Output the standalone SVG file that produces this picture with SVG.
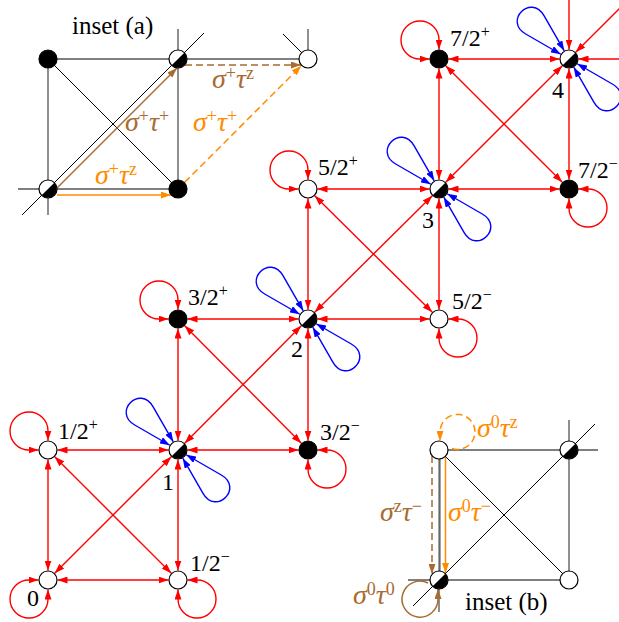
<svg xmlns="http://www.w3.org/2000/svg" width="619" height="622" viewBox="0 0 619 622">
<style>
.r{stroke:#f00;stroke-width:1.4;fill:none;marker-start:url(#ar);marker-end:url(#ar)}
.r1{stroke:#f00;stroke-width:1.4;fill:none;marker-end:url(#ar)}
.gl{stroke:#555;stroke-width:1.3;fill:none}
.bl{stroke:#000;stroke-width:1;fill:none}
.nw{fill:#fff;stroke:#000;stroke-width:1.2}
.nb{fill:#000;stroke:#000;stroke-width:1.2}
.lbl{font-family:"Liberation Serif","Times New Roman",serif;font-size:24px;fill:#000}
.sup{font-size:16px}
.gk{font-family:"Liberation Serif","Times New Roman",serif;font-size:28px;font-style:italic}
.sp{font-size:18px;font-style:normal}
.br{stroke:#A86B32;stroke-width:1.5;fill:none}
.or{stroke:#FF8C00;stroke-width:1.5;fill:none}
.dash{stroke-dasharray:7 4}
</style>
<defs>
<marker id="ar" viewBox="0 0 10 7" refX="10" refY="3.5" markerWidth="10" markerHeight="7" markerUnits="userSpaceOnUse" orient="auto-start-reverse"><path d="M0,0 L10,3.5 L0,7 z" fill="#f00"/></marker>
<marker id="ab" viewBox="0 0 10 7" refX="10" refY="3.5" markerWidth="10" markerHeight="7" markerUnits="userSpaceOnUse" orient="auto-start-reverse"><path d="M0,0 L10,3.5 L0,7 z" fill="#00f"/></marker>
<marker id="abr" viewBox="0 0 10 7" refX="10" refY="3.5" markerWidth="10" markerHeight="7" markerUnits="userSpaceOnUse" orient="auto"><path d="M0,0 L10,3.5 L0,7 z" fill="#A86B32"/></marker>
<marker id="aor" viewBox="0 0 10 7" refX="10" refY="3.5" markerWidth="10" markerHeight="7" markerUnits="userSpaceOnUse" orient="auto"><path d="M0,0 L10,3.5 L0,7 z" fill="#FF8C00"/></marker>
<path id="lUL" d="M-9.5,0 L-19,0 A19 19 0 1 1 0,-19 L0,-9.5" stroke="#f00" stroke-width="1.4" fill="none" marker-start="url(#ar)" marker-end="url(#ar)"/>
<path id="lLR" d="M9.5,0 L19,0 A19 19 0 1 1 0,19 L0,9.5" stroke="#f00" stroke-width="1.4" fill="none" marker-start="url(#ar)" marker-end="url(#ar)"/>
<path id="lLL" d="M0,9.5 L0,19 A19 19 0 1 1 -19,0 L-9.5,0" stroke="#f00" stroke-width="1.4" fill="none" marker-start="url(#ar)" marker-end="url(#ar)"/>
<path id="tUL" d="M-8.2,-4.75 L-43.3,-25 C-65.8,-38 -38,-65.8 -25,-43.3 L-4.75,-8.2" stroke="#00f" stroke-width="1.4" fill="none" marker-start="url(#ab)" marker-end="url(#ab)"/>
<path id="tLR" d="M8.2,4.75 L43.3,25 C65.8,38 38,65.8 25,43.3 L4.75,8.2" stroke="#00f" stroke-width="1.4" fill="none" marker-start="url(#ab)" marker-end="url(#ab)"/>
<g id="half"><circle r="9" fill="#fff" stroke="#000" stroke-width="1.2"/><path d="M-6.36,6.36 A9 9 0 0 0 6.36,-6.36 Z" fill="#000"/></g>
</defs>

<g id="inset-lines">
<path class="gl" d="M48,59 H308 M48,189 H178 M48,59 V189 M178,59 V189 M18,189 H48 M48,189 V215 M178,59 V29 M308,59 V29"/>
<path class="bl" d="M48,59 L178,189 M22,215 L204,33 M283,34 L308,59"/>
<path class="gl" d="M439,450 H598 M439,580 H569 M569,450 V580 M408,580 H439 M439,580 V612 M569,450 V420"/>
<path stroke="#666" stroke-width="2.2" fill="none" d="M439.5,450 V580"/>
<path class="bl" d="M439,450 L569,580 M413,606 L595,424"/>
</g>

<g id="connectors">
<path class="r" d="M48,570.5 V459.5"/>
<path class="r" d="M57.5,580 H168.5"/>
<path class="r" d="M57.5,450 H168.5"/>
<path class="r" d="M178,570.5 V459.5"/>
<path class="r" d="M54.7,573.3 L171.3,456.7"/>
<path class="r" d="M54.7,456.7 L171.3,573.3"/>
<path class="r" d="M178,440.5 V328.5"/>
<path class="r" d="M187.5,450 H298.5"/>
<path class="r" d="M187.5,319 H298.5"/>
<path class="r" d="M308,440.5 V328.5"/>
<path class="r" d="M184.7,443.3 L301.3,325.7"/>
<path class="r" d="M184.7,325.7 L301.3,443.3"/>
<path class="r" d="M308,309.5 V198.5"/>
<path class="r" d="M317.5,319 H429.5"/>
<path class="r" d="M317.5,189 H429.5"/>
<path class="r" d="M439,309.5 V198.5"/>
<path class="r" d="M314.7,312.3 L432.3,195.7"/>
<path class="r" d="M314.7,195.7 L432.3,312.3"/>
<path class="r" d="M439,179.5 V68.5"/>
<path class="r" d="M448.5,189 H559.5"/>
<path class="r" d="M448.5,59 H559.5"/>
<path class="r" d="M569,179.5 V68.5"/>
<path class="r" d="M445.7,182.3 L562.3,65.7"/>
<path class="r" d="M445.7,65.7 L562.3,182.3"/>
<path class="r1" d="M569,-20 V49.5"/>
<path class="r1" d="M640,59 H578.5"/>
<path class="r1" d="M640,-12 L575.7,52.3"/>
<use href="#lLL" transform="translate(48,580)"/>
<use href="#lUL" transform="translate(48,450)"/>
<use href="#lLR" transform="translate(178,580)"/>
<use href="#lUL" transform="translate(178,319)"/>
<use href="#lLR" transform="translate(308,450)"/>
<use href="#lUL" transform="translate(308,189)"/>
<use href="#lLR" transform="translate(439,319)"/>
<use href="#lUL" transform="translate(439,59)"/>
<use href="#lLR" transform="translate(569,189)"/>
<use href="#tUL" transform="translate(178,450)"/>
<use href="#tLR" transform="translate(178,450)"/>
<use href="#tUL" transform="translate(308,319)"/>
<use href="#tLR" transform="translate(308,319)"/>
<use href="#tUL" transform="translate(439,189)"/>
<use href="#tLR" transform="translate(439,189)"/>
<use href="#tUL" transform="translate(569,59)"/>
<use href="#tLR" transform="translate(569,59)"/>
<path class="br" d="M57,188 L177,68" marker-end="url(#abr)"/>
<path class="or" d="M57,195 H171" marker-end="url(#aor)"/>
<path class="br dash" d="M185,65 H301" marker-end="url(#abr)"/>
<path class="or dash" d="M184.7,182.3 L301.3,65.7" marker-end="url(#aor)"/>
<path class="or dash" d="M452,448.5 A17.5 17.5 0 1 0 440,431.5 L440,441" marker-end="url(#aor)"/>
<path class="br dash" d="M432,456 V574" marker-end="url(#abr)"/>
<path class="or" d="M445.5,457 V573" marker-end="url(#aor)"/>
<path class="br" d="M428,583 A18 18 0 1 0 438,599 L438,589" marker-end="url(#abr)"/>
</g>

<g id="ia-tl"><circle class="nb" cx="48" cy="59" r="9"/></g>
<g id="ia-tr"><use href="#half" x="178" y="59"/></g>
<g id="ia-bl"><use href="#half" x="48" y="189"/></g>
<g id="ia-br"><circle class="nb" cx="178" cy="189" r="9"/></g>
<g id="ia-far"><circle class="nw" cx="308" cy="59" r="9"/></g>
<g id="ib-tl"><circle class="nw" cx="439" cy="450" r="9"/></g>
<g id="ib-tr"><use href="#half" x="569" y="450"/></g>
<g id="ib-bl"><use href="#half" x="439" y="580"/></g>
<g id="ib-br"><circle class="nw" cx="569" cy="580" r="9"/></g>

<g id="n0"><circle class="nw" cx="48" cy="580" r="9"/><text class="lbl" x="27" y="606">0</text></g>
<g id="n1_2p"><circle class="nw" cx="48" cy="450" r="9"/><text class="lbl" x="58" y="439">1/2<tspan class="sup" dy="-9">+</tspan></text></g>
<g id="n1_2m"><circle class="nw" cx="178" cy="580" r="9"/><text class="lbl" x="190" y="571">1/2<tspan class="sup" dy="-9">−</tspan></text></g>
<g id="n1"><use href="#half" x="178" y="450"/><text class="lbl" x="162" y="490">1</text></g>
<g id="n3_2p"><circle class="nb" cx="178" cy="319" r="9"/><text class="lbl" x="188" y="305">3/2<tspan class="sup" dy="-9">+</tspan></text></g>
<g id="n3_2m"><circle class="nb" cx="308" cy="450" r="9"/><text class="lbl" x="320" y="440">3/2<tspan class="sup" dy="-9">−</tspan></text></g>
<g id="n2"><use href="#half" x="308" y="319"/><text class="lbl" x="291" y="357">2</text></g>
<g id="n5_2p"><circle class="nw" cx="308" cy="189" r="9"/><text class="lbl" x="318" y="175">5/2<tspan class="sup" dy="-9">+</tspan></text></g>
<g id="n5_2m"><circle class="nw" cx="439" cy="319" r="9"/><text class="lbl" x="452" y="309">5/2<tspan class="sup" dy="-9">−</tspan></text></g>
<g id="n3"><use href="#half" x="439" y="189"/><text class="lbl" x="422" y="228">3</text></g>
<g id="n7_2p"><circle class="nb" cx="439" cy="59" r="9"/><text class="lbl" x="450" y="46">7/2<tspan class="sup" dy="-9">+</tspan></text></g>
<g id="n7_2m"><circle class="nb" cx="569" cy="189" r="9"/><text class="lbl" x="578" y="178">7/2<tspan class="sup" dy="-9">−</tspan></text></g>
<g id="n4"><use href="#half" x="569" y="59"/><text class="lbl" x="552" y="98">4</text></g>

<g id="labels">
<text class="lbl" x="72" y="34" style="font-size:25px">inset (a)</text>
<text class="lbl" x="465" y="610" style="font-size:25px">inset (b)</text>
<text class="gk" x="212" y="88" fill="#A86B32">σ<tspan class="sp" dy="-9">+</tspan><tspan dy="9">τ</tspan><tspan class="sp" dy="-9">z</tspan></text>
<text class="gk" x="125" y="131" fill="#A86B32">σ<tspan class="sp" dy="-9">+</tspan><tspan dy="9">τ</tspan><tspan class="sp" dy="-9">+</tspan></text>
<text class="gk" x="193" y="131" fill="#FF8C00">σ<tspan class="sp" dy="-9">+</tspan><tspan dy="9">τ</tspan><tspan class="sp" dy="-9">+</tspan></text>
<text class="gk" x="95" y="184" fill="#FF8C00">σ<tspan class="sp" dy="-9">+</tspan><tspan dy="9">τ</tspan><tspan class="sp" dy="-9">z</tspan></text>
<text class="gk" x="477" y="437" fill="#FF8C00">σ<tspan class="sp" dy="-9">0</tspan><tspan dy="9">τ</tspan><tspan class="sp" dy="-9">z</tspan></text>
<text class="gk" x="380" y="521" fill="#A86B32">σ<tspan class="sp" dy="-9">z</tspan><tspan dy="9">τ</tspan><tspan class="sp" dy="-9">−</tspan></text>
<text class="gk" x="448" y="521" fill="#FF8C00">σ<tspan class="sp" dy="-9">0</tspan><tspan dy="9">τ</tspan><tspan class="sp" dy="-9">−</tspan></text>
<text class="gk" x="353" y="604" fill="#A86B32">σ<tspan class="sp" dy="-9">0</tspan><tspan dy="9">τ</tspan><tspan class="sp" dy="-9">0</tspan></text>
</g>
</svg>
